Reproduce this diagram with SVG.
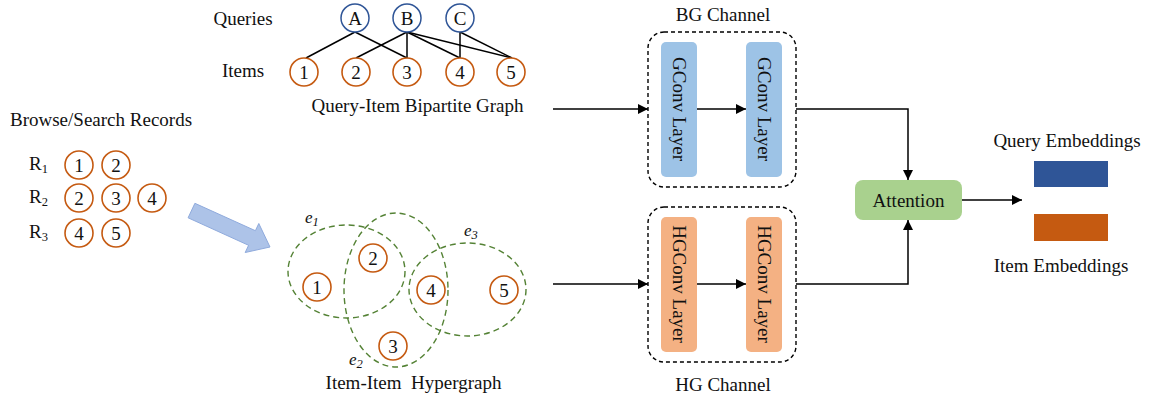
<svg xmlns="http://www.w3.org/2000/svg" width="1149" height="402" viewBox="0 0 1149 402">
<defs>
<marker id="arr" viewBox="0 0 10 10" refX="10" refY="5" markerWidth="10" markerHeight="10" markerUnits="userSpaceOnUse" orient="auto">
<path d="M0,0 L10,5 L0,10 z" fill="#000"/>
</marker>
<style>
text{font-family:"Liberation Serif","Times New Roman",serif;fill:#111;}
.lbl{font-size:19px;}
.num{font-size:19px;text-anchor:middle;dominant-baseline:central;}
.q{fill:#fff;stroke:#2f5597;stroke-width:1.5;}
.it{fill:#fff;stroke:#c55a11;stroke-width:1.6;}
.edge{stroke:#000;stroke-width:1.5;fill:none;}
.hyper{fill:none;stroke:#548235;stroke-width:1.4;stroke-dasharray:6 4;}
.chan{fill:none;stroke:#000;stroke-width:1.4;stroke-dasharray:4 3;}
.conn{stroke:#000;stroke-width:1.5;fill:none;marker-end:url(#arr);}
.gl{fill:#9dc3e6;}
.hl{fill:#f4b183;}
.vt{font-size:19px;text-anchor:middle;dominant-baseline:central;}
.el{font-size:17px;font-style:italic;}
.sub{font-size:12.5px;}
</style>
</defs>

<!-- Bipartite graph -->
<g id="bipartite">
<text class="lbl" x="243" y="25" text-anchor="middle">Queries</text>
<text class="lbl" x="243" y="77" text-anchor="middle">Items</text>
<g class="edge">
<line x1="355" y1="32" x2="306" y2="58"/>
<line x1="355" y1="32" x2="407" y2="58"/>
<line x1="407" y1="32" x2="356" y2="58"/>
<line x1="407" y1="32" x2="407" y2="58"/>
<line x1="407" y1="32" x2="460" y2="58"/>
<line x1="407" y1="32" x2="512" y2="58"/>
<line x1="460" y1="32" x2="460" y2="58"/>
<line x1="460" y1="32" x2="512" y2="58"/>
</g>
<g id="qA"><circle class="q" cx="355" cy="18" r="14"/><text class="num" x="355" y="18">A</text></g>
<g id="qB"><circle class="q" cx="407" cy="18" r="14"/><text class="num" x="407" y="18">B</text></g>
<g id="qC"><circle class="q" cx="460" cy="18" r="14"/><text class="num" x="460" y="18">C</text></g>
<g id="i1"><circle class="it" cx="304" cy="72" r="14"/><text class="num" x="304" y="72">1</text></g>
<g id="i2"><circle class="it" cx="356" cy="72" r="14"/><text class="num" x="356" y="72">2</text></g>
<g id="i3"><circle class="it" cx="407" cy="72" r="14"/><text class="num" x="407" y="72">3</text></g>
<g id="i4"><circle class="it" cx="460" cy="72" r="14"/><text class="num" x="460" y="72">4</text></g>
<g id="i5"><circle class="it" cx="511" cy="72" r="14"/><text class="num" x="511" y="72">5</text></g>
<text class="lbl" x="417.5" y="112" text-anchor="middle">Query-Item Bipartite Graph</text>
</g>

<!-- Records -->
<g id="records">
<text class="lbl" x="10" y="126">Browse/Search Records</text>
<text class="lbl" x="29" y="170">R<tspan class="sub" dy="3">1</tspan></text>
<text class="lbl" x="29" y="203">R<tspan class="sub" dy="3">2</tspan></text>
<text class="lbl" x="29" y="238">R<tspan class="sub" dy="3">3</tspan></text>
<circle class="it" cx="79" cy="165" r="14"/><text class="num" x="79" y="165">1</text>
<circle class="it" cx="116" cy="165" r="14"/><text class="num" x="116" y="165">2</text>
<circle class="it" cx="79" cy="198" r="14"/><text class="num" x="79" y="198">2</text>
<circle class="it" cx="116" cy="198" r="14"/><text class="num" x="116" y="198">3</text>
<circle class="it" cx="152" cy="198" r="14"/><text class="num" x="152" y="198">4</text>
<circle class="it" cx="79" cy="233" r="14"/><text class="num" x="79" y="233">4</text>
<circle class="it" cx="116" cy="233" r="14"/><text class="num" x="116" y="233">5</text>
</g>

<!-- Big arrow -->
<g id="bigarrow">
<path d="M194.9,203.3 L255.4,230.7 L258.8,223.5 L270,247 L245.2,252.5 L248.6,245.3 L188.1,217.8 Z" fill="#adc3e8" stroke="#8faadc" stroke-width="1"/>
</g>

<!-- Hypergraph -->
<g id="hypergraph">
<ellipse class="hyper" cx="346.5" cy="271.5" rx="58.5" ry="46.5"/>
<ellipse class="hyper" cx="396" cy="290" rx="52" ry="77"/>
<ellipse class="hyper" cx="467.5" cy="289.5" rx="58.5" ry="46.5"/>
<text class="el" x="305" y="223">e<tspan class="sub" dy="3">1</tspan></text>
<text class="el" x="349" y="365">e<tspan class="sub" dy="3">2</tspan></text>
<text class="el" x="464" y="236">e<tspan class="sub" dy="3">3</tspan></text>
<circle class="it" cx="317" cy="287" r="14"/><text class="num" x="317" y="287">1</text>
<circle class="it" cx="373" cy="258" r="14"/><text class="num" x="373" y="258">2</text>
<circle class="it" cx="393" cy="346" r="14"/><text class="num" x="393" y="346">3</text>
<circle class="it" cx="431" cy="290" r="14"/><text class="num" x="431" y="290">4</text>
<circle class="it" cx="504" cy="290" r="14"/><text class="num" x="504" y="290">5</text>
<text class="lbl" x="413.5" y="389" text-anchor="middle" xml:space="preserve">Item-Item  Hypergraph</text>
</g>

<!-- BG Channel -->
<g id="bgchannel">
<text class="lbl" x="723" y="21" text-anchor="middle">BG Channel</text>
<rect class="chan" x="648" y="32" width="148" height="155" rx="16"/>
<g id="gconv1"><rect class="gl" x="661" y="42" width="36" height="135" rx="5"/><text class="vt" transform="translate(679,109) rotate(90)">GConv Layer</text></g>
<g id="gconv2"><rect class="gl" x="746" y="42" width="36" height="135" rx="5"/><text class="vt" transform="translate(764,109) rotate(90)">GConv Layer</text></g>
</g>

<!-- HG Channel -->
<g id="hgchannel">
<rect class="chan" x="648" y="207" width="148" height="155" rx="16"/>
<g id="hgconv1"><rect class="hl" x="661" y="217" width="36" height="135" rx="5"/><text class="vt" transform="translate(679,284) rotate(90)">HGConv Layer</text></g>
<g id="hgconv2"><rect class="hl" x="746" y="217" width="36" height="135" rx="5"/><text class="vt" transform="translate(764,284) rotate(90)">HGConv Layer</text></g>
<text class="lbl" x="723" y="391" text-anchor="middle">HG Channel</text>
</g>

<!-- Attention -->
<g id="attention">
<rect x="855" y="180" width="107" height="40" rx="8" fill="#a9d18e"/>
<text class="lbl" x="908.5" y="207" text-anchor="middle">Attention</text>
</g>

<!-- Embeddings -->
<g id="embeddings">
<text class="lbl" x="1067" y="147" text-anchor="middle">Query Embeddings</text>
<rect x="1034" y="161" width="74" height="26" fill="#2f5597"/>
<rect x="1034" y="214" width="74" height="27" fill="#c55a11"/>
<text class="lbl" x="1061" y="272" text-anchor="middle">Item Embeddings</text>
</g>

<!-- Connectors -->
<g id="connectors">
<path class="conn" d="M553,109 H648"/>
<path class="conn" d="M697,109 H746"/>
<path class="conn" d="M796,109 H908 V180"/>
<path class="conn" d="M553,284 H648"/>
<path class="conn" d="M697,284 H746"/>
<path class="conn" d="M796,284 H908 V220"/>
<path class="conn" d="M962,200 H1022"/>
</g>
</svg>
